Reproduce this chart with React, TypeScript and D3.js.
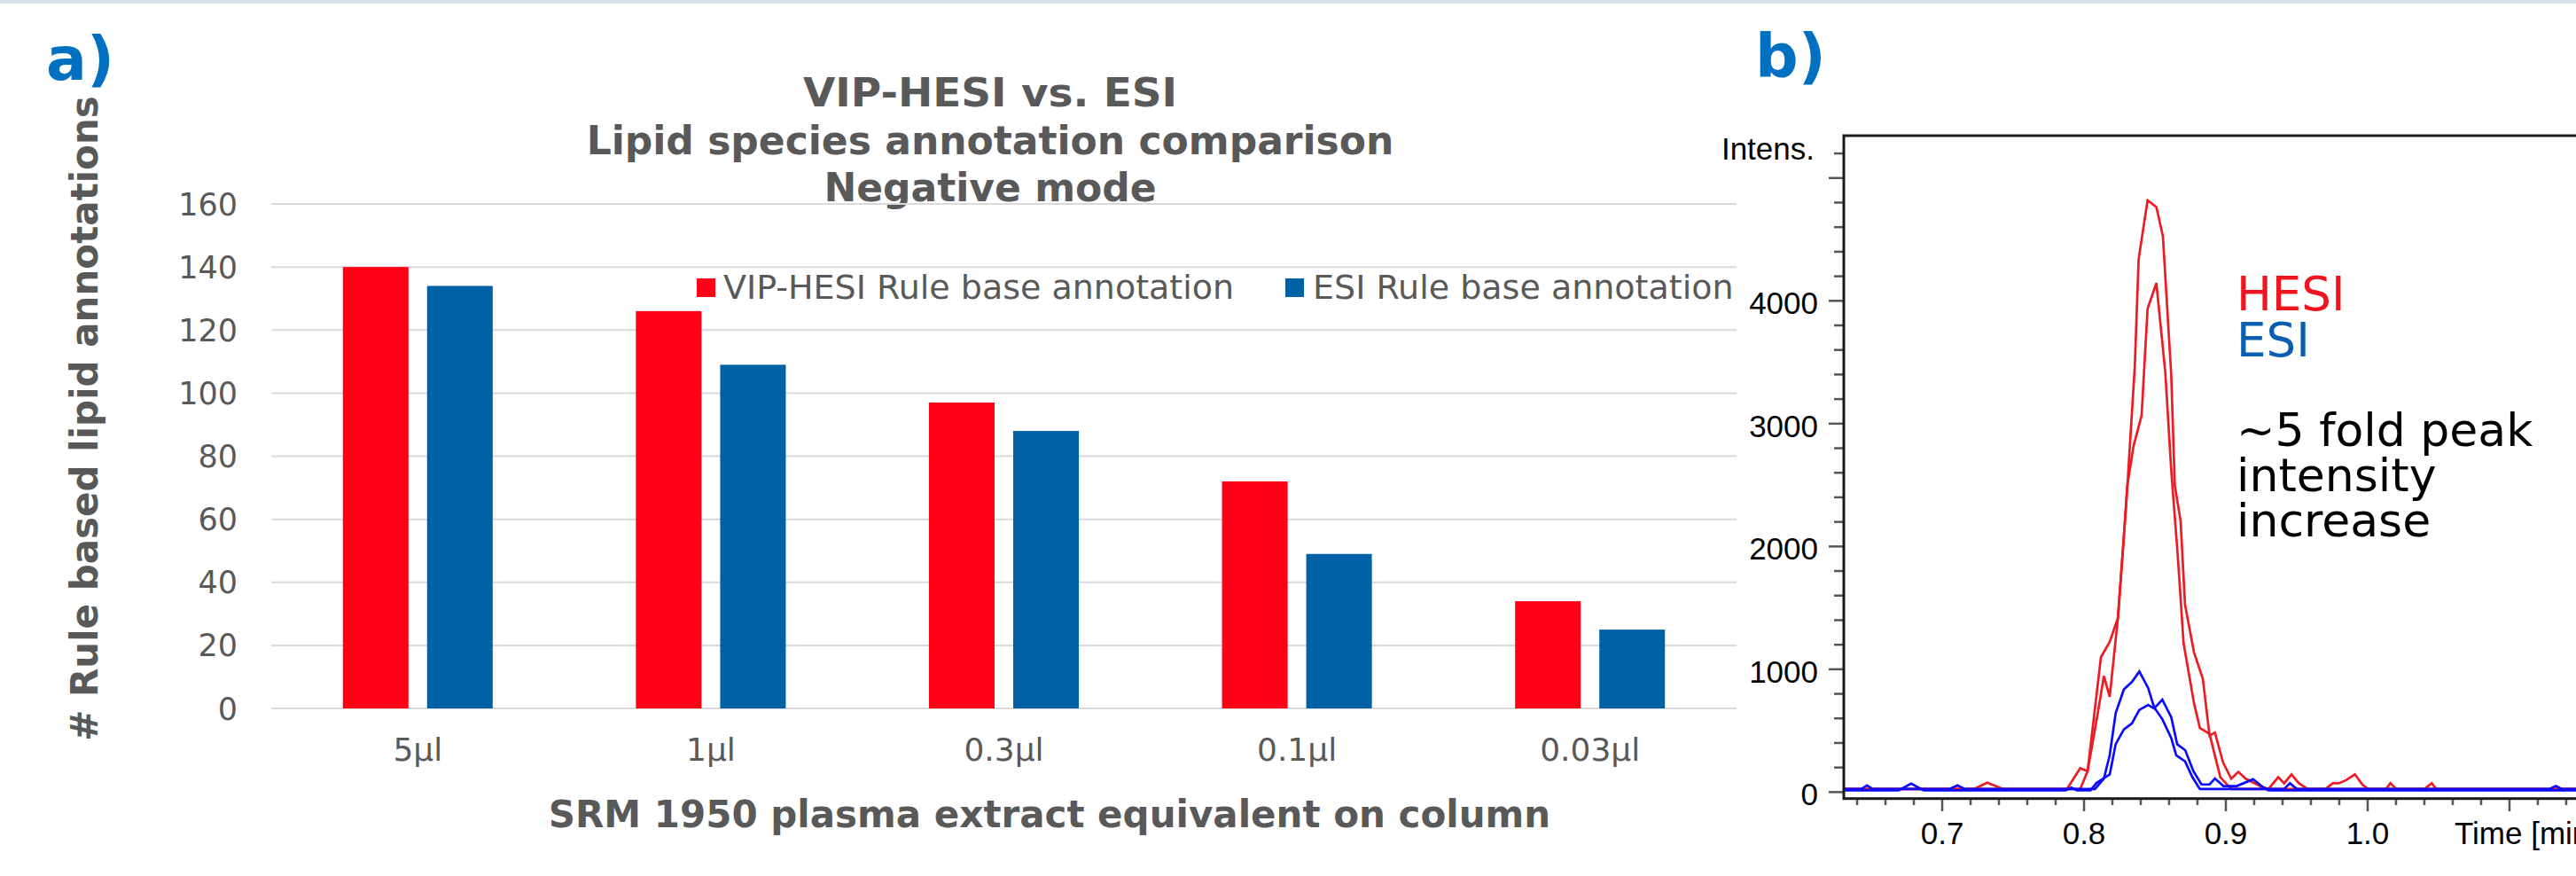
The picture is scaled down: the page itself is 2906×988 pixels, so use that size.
import React from 'react'
import * as d3 from 'd3'

// ---- panel a: annotation counts ----
const doses = ['5µl', '1µl', '0.3µl', '0.1µl', '0.03µl']
const hesiCounts = [140, 126, 97, 72, 34]
const esiCounts = [134, 109, 88, 49, 25]
const seriesKeys = ['hesi', 'esi']
const seriesNames = ['VIP-HESI Rule base annotation', 'ESI Rule base annotation']
const seriesColors = ['#ff0016', '#0061a6']
const countTicks = [0, 20, 40, 60, 80, 100, 120, 140, 160]
const titleLines = ['VIP-HESI vs. ESI', 'Lipid species annotation comparison', 'Negative mode']

// ---- panel b: extracted ion chromatograms [time min, intensity] ----
const hesiTraceA = [
  [0.62, 25], [0.7223, 25], [0.7317, 77], [0.7431, 25], [0.7879, 25], [0.7973, 194], [0.8025, 170],
  [0.8067, 582], [0.8119, 1098], [0.8181, 1224], [0.8239, 1418], [0.8281, 2085], [0.8306, 2500],
  [0.8358, 3467], [0.8385, 4339], [0.8448, 4819], [0.851, 4764], [0.8556, 4528], [0.8615, 3394],
  [0.864, 2497], [0.8681, 2206], [0.8712, 1527], [0.8775, 1139], [0.8838, 921], [0.8885, 460],
  [0.8923, 485], [0.898, 242], [0.9038, 109], [0.9088, 165], [0.914, 109], [0.9244, 48], [0.93, 25],
  [0.9702, 25], [0.9754, 72], [0.9796, 72], [0.9848, 97], [0.991, 145], [0.9963, 60], [1.0004, 25],
  [1.0129, 25], [1.016, 72], [1.0202, 25], [1.04, 25], [1.0452, 72], [1.0483, 25], [1.16, 25],
]
const hesiTraceB = [
  [0.62, 25], [0.7973, 25], [0.8025, 170], [0.8098, 650], [0.814, 945], [0.8181, 776], [0.8239, 1418],
  [0.8281, 2085], [0.8306, 2500], [0.8348, 2812], [0.8406, 3067], [0.8448, 3935], [0.851, 4145],
  [0.8573, 3418], [0.8615, 2618], [0.866, 1939], [0.8702, 1212], [0.8775, 727], [0.8817, 521],
  [0.8869, 485], [0.8885, 473], [0.8961, 121], [0.9038, 25], [0.93, 25], [0.9369, 121], [0.9411, 72],
  [0.9463, 145], [0.9515, 72], [0.9577, 25], [1.16, 25],
]
const esiTraceA = [
  [0.62, 25], [0.643, 25], [0.6469, 55], [0.651, 25], [0.705, 25], [0.7108, 55], [0.716, 25],
  [0.8077, 25], [0.814, 110], [0.8181, 300], [0.8223, 642], [0.8281, 836], [0.8338, 897], [0.839, 982],
  [0.8452, 848], [0.8494, 691], [0.8552, 594], [0.8615, 440], [0.865, 300], [0.8712, 250],
  [0.8765, 120], [0.8817, 25], [0.9411, 25], [0.9452, 72], [0.95, 25], [1.128, 25], [1.1327, 50],
  [1.137, 25], [1.16, 25],
]
const esiTraceB = [
  [0.62, 25], [0.6692, 25], [0.6781, 80], [0.6869, 25], [0.787, 25], [0.791, 48], [0.795, 25],
  [0.8045, 25], [0.8088, 85], [0.8181, 155], [0.8223, 400], [0.8281, 521], [0.8338, 570], [0.839, 680],
  [0.8452, 720], [0.8494, 691], [0.8552, 763], [0.8615, 620], [0.8657, 400], [0.8714, 351],
  [0.8771, 182], [0.8828, 73], [0.8885, 73], [0.8923, 121], [0.8983, 60], [0.9077, 60], [0.9192, 116],
  [0.9265, 48], [0.93, 25], [1.16, 25],
]
const timeLabels = [0.7, 0.8, 0.9, 1.0]
const intensLabels = [0, 1000, 2000, 3000, 4000]
const noteLines = ['~5 fold peak', 'intensity', 'increase']

const GRAY = '#595959'
const SANS = "'DejaVu Sans', Verdana, sans-serif"
const LIB = "'Liberation Sans', Arial, sans-serif"

export default function App() {
  // panel a scales
  const xA = d3.scaleBand().domain(doses).range([306, 1959])
  const xIn = d3.scaleBand().domain(seriesKeys).range([0, xA.bandwidth()]).paddingInner(0.221).paddingOuter(0.85)
  const yA = d3.scaleLinear().domain([0, 160]).range([799, 230])
  const rows = doses.map((d, i) => ({ dose: d, hesi: hesiCounts[i], esi: esiCounts[i] }))

  // panel b scales
  const xB = d3.scaleLinear().domain([0.6306, 1.1469]).range([2080, 2906])
  const yB = d3.scaleLinear().domain([-53, 5345]).range([900.7, 153])
  const line = d3.line<number[]>().x(d => xB(d[0])).y(d => yB(d[1]))
  const minorT = d3.range(0.64, 1.15, 0.02).map(v => +v.toFixed(2))
  const minorI = d3.range(0, 5400, 200)

  return (
    <svg width={2906} height={988} style={{ position: 'absolute', left: 0, top: 0, display: 'block', background: '#fff' }}>
      <rect x={0} y={0} width={2906} height={4} fill="#dbe3ec" />

      {/* ---------- panel a ---------- */}
      <text x={52} y={90} fontFamily={SANS} fontWeight="bold" fontSize={68} fill="#0070c0">a)</text>
      {titleLines.map((t, i) => (
        <text key={t} x={1117} y={120 + i * 53.5} textAnchor="middle" fontFamily={SANS} fontWeight="bold" fontSize={44} fill={GRAY}
          {...(i === 0 ? { textLength: 422, lengthAdjust: 'spacingAndGlyphs' } : {})}>{t}</text>
      ))}
      {countTicks.map(v => (
        <g key={v}>
          <line x1={306} x2={1959} y1={yA(v)} y2={yA(v)} stroke="#d9d9d9" strokeWidth={2} />
          <text x={268} y={yA(v) + 12.5} textAnchor="end" fontFamily={SANS} fontSize={35} fill={GRAY}>{v}</text>
        </g>
      ))}
      {rows.map(r => (
        <g key={r.dose} transform={`translate(${xA(r.dose)},0)`}>
          {seriesKeys.map((k, j) => (
            <rect key={k} x={xIn(k)} y={yA(r[k])} width={xIn.bandwidth()} height={yA(0) - yA(r[k])} fill={seriesColors[j]} />
          ))}
          <text x={xA.bandwidth() / 2} y={858} textAnchor="middle" fontFamily={SANS} fontSize={36} fill={GRAY}>{r.dose}</text>
        </g>
      ))}
      {/* legend */}
      <rect x={786} y={314} width={21} height={21} fill={seriesColors[0]} />
      <text x={816} y={337} fontFamily={SANS} fontSize={38} fill={GRAY}>{seriesNames[0]}</text>
      <rect x={1450} y={314} width={21} height={21} fill={seriesColors[1]} />
      <text x={1481} y={337} fontFamily={SANS} fontSize={38} fill={GRAY}>{seriesNames[1]}</text>

      <text transform="translate(110,472) rotate(-90)" textAnchor="middle" fontFamily={SANS} fontWeight="bold" fontSize={42} fill={GRAY}>
        # Rule based lipid annotations
      </text>
      <text x={1184} y={933} textAnchor="middle" fontFamily={SANS} fontWeight="bold" fontSize={42} fill={GRAY}>
        SRM 1950 plasma extract equivalent on column
      </text>

      {/* ---------- panel b ---------- */}
      <text x={1980} y={87} fontFamily={SANS} fontWeight="bold" fontSize={68} fill="#0070c0">b)</text>
      <defs>
        <clipPath id="plotB">
          <rect x={2081} y={154} width={830} height={745} />
        </clipPath>
      </defs>
      {minorI.map(v => (
        <line key={'yi' + v} x1={v % 1000 === 0 ? 2063 : 2069} x2={2080} y1={yB(v)} y2={yB(v)} stroke="#555" strokeWidth={2.5} />
      ))}
      {intensLabels.map(v => (
        <text key={'yl' + v} x={2051} y={yB(v) + 15} textAnchor="end" fontFamily={LIB} fontSize={35} fill="#000">{v}</text>
      ))}
      <text x={2047} y={180} textAnchor="end" fontFamily={LIB} fontSize={35} fill="#000">Intens.</text>
      {minorT.map(v => (
        <line key={'xt' + v} x1={xB(v)} x2={xB(v)} y1={900.7} y2={Math.round(v * 100) % 10 === 0 ? 915 : 908} stroke="#555" strokeWidth={2.5} />
      ))}
      {timeLabels.map(v => (
        <text key={'xl' + v} x={xB(v)} y={951.5} textAnchor="middle" fontFamily={LIB} fontSize={35} fill="#000">{d3.format('.1f')(v)}</text>
      ))}
      <text x={2769} y={951.5} fontFamily={LIB} fontSize={35} fill="#000">Time [min]</text>

      <g clipPath="url(#plotB)" fill="none" strokeWidth={2.7} strokeLinejoin="miter">
        <path d={line(hesiTraceA) || ''} stroke="#ed1c24" />
        <path d={line(hesiTraceB) || ''} stroke="#ed1c24" />
        <path d={line(esiTraceA) || ''} stroke="#0a0aff" />
        <path d={line(esiTraceB) || ''} stroke="#0a0aff" transform="translate(0,1.5)" />
      </g>
      <rect x={2080} y={153} width={840} height={747.7} fill="none" stroke="#1a1a1a" strokeWidth={3} />

      <text x={2523} y={350} fontFamily={SANS} fontSize={53} fill="#f0141e">HESI</text>
      <text x={2523} y={402} fontFamily={SANS} fontSize={53} fill="#0a5fb0">ESI</text>
      {noteLines.map((t, i) => (
        <text key={t} x={2523} y={503 + i * 51} fontFamily={SANS} fontSize={52} fill="#000">{t}</text>
      ))}
    </svg>
  )
}
